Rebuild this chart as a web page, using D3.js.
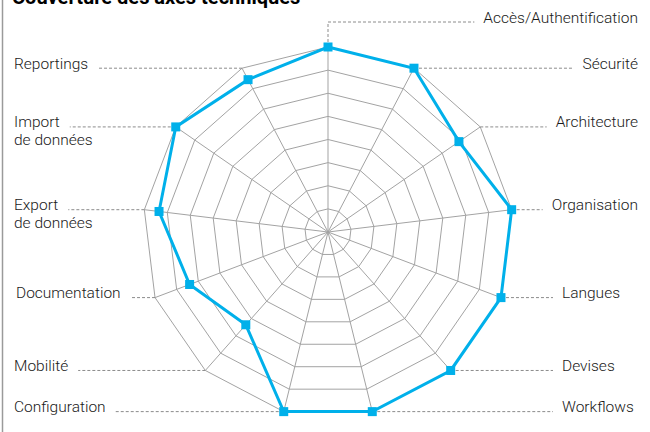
<!DOCTYPE html>
<html>
<head>
<meta charset="utf-8">
<script src="https://cdn.jsdelivr.net/npm/d3@7"></script>
<style>
  html, body { margin: 0; padding: 0; background: #fff; }
  svg { display: block; }
  text { font-family: Roboto, "Noto Sans", sans-serif; }
</style>
</head>
<body>
<svg id="chart" width="650" height="432"></svg>
<script>
// ---- data ----
const title = "Couverture des axes techniques";
const axes = [
  "Accès/Authentification", "Sécurité", "Architecture", "Organisation",
  "Langues", "Devises", "Workflows", "Configuration", "Mobilité",
  "Documentation", "Export\nde données", "Import\nde données", "Reportings"
];
const values = [100, 100, 86, 100, 100, 100, 100, 100, 67, 80, 92, 100, 93];
const maxValue = 100;
const levels = 8;

// ---- layout (not data) ----
const W = 650, H = 432;
const cx = 328, cy = 232, R = 185;
const labelLayout = [
  {side: "right", x: 638, lineY: 22},
  {side: "right", x: 638},
  {side: "right", x: 638},
  {side: "right", x: 638},
  {side: "rightStart", x: 562},
  {side: "rightStart", x: 562},
  {side: "rightStart", x: 562},
  {side: "left", x: 14},
  {side: "left", x: 14},
  {side: "left", x: 16},
  {side: "left", x: 14},
  {side: "left", x: 14},
  {side: "left", x: 14}
];
const blue = "#00b0ea";
const gridColor = "#a3a3a3";

const svg = d3.select("#chart");

// left border
svg.append("line").attr("x1", 2.5).attr("x2", 2.5).attr("y1", 0).attr("y2", H)
  .attr("stroke", "#9a9a9a").attr("stroke-width", 1.5);

// title (cut at the top in the original)
svg.append("text").attr("x", 12).attr("y", 4)
  .attr("font-size", 20).attr("font-weight", 700).attr("fill", "#000")
  .text(title);

const n = axes.length;
const angle = d3.scaleLinear().domain([0, n]).range([0, 2 * Math.PI]);
const r = d3.scaleLinear().domain([0, maxValue]).range([0, R]);
const pt = (i, v) => {
  const a = angle(i);
  return [cx + r(v) * Math.sin(a), cy - r(v) * Math.cos(a)];
};

const g = svg.append("g");

// grid rings
const levelVals = d3.range(1, levels + 1).map(k => maxValue * k / levels);
const ringLine = d3.line();
g.selectAll("path.ring").data(levelVals).join("path")
  .attr("class", "ring")
  .attr("d", lv => ringLine(d3.range(n).map(i => pt(i, lv))) + "Z")
  .attr("fill", "none").attr("stroke", gridColor).attr("stroke-width", 1);

// spokes
g.selectAll("line.spoke").data(d3.range(n)).join("line")
  .attr("class", "spoke")
  .attr("x1", cx).attr("y1", cy)
  .attr("x2", i => pt(i, maxValue)[0]).attr("y2", i => pt(i, maxValue)[1])
  .attr("stroke", gridColor).attr("stroke-width", 1);

// labels + leader lines
const lg = svg.append("g");
axes.forEach((name, i) => {
  const L = labelLayout[i];
  const [vx, vy] = pt(i, maxValue);
  const ly = L.lineY !== undefined ? L.lineY : vy;
  const lines = name.split("\n");
  const t = lg.append("text")
    .attr("font-size", 15.5).attr("font-weight", 300).attr("fill", "#1a1a1a")
    .attr("text-anchor", L.side === "right" ? "end" : "start");
  lines.forEach((s, k) => {
    t.append("tspan").attr("x", L.x).attr("y", ly + 0.5 + k * 18).text(s);
  });
  const firstW = t.select("tspan").node().getComputedTextLength();
  let lineEnd;
  if (L.side === "right") lineEnd = L.x - firstW - 9;
  else if (L.side === "rightStart") lineEnd = L.x - 9;
  else lineEnd = L.x + firstW + 10;
  let p = d3.path();
  p.moveTo(vx, vy);
  if (L.lineY !== undefined) p.lineTo(vx, ly);
  p.lineTo(lineEnd, ly);
  lg.append("path").attr("d", p.toString())
    .attr("stroke", "#8c8c8c").attr("stroke-width", 1)
    .attr("stroke-dasharray", "3,2").attr("fill", "none");
});

// data polygon
const dataPts = values.map((v, i) => pt(i, v));
svg.append("path")
  .attr("d", d3.line()(dataPts) + "Z")
  .attr("fill", "none").attr("stroke", blue).attr("stroke-width", 3)
  .attr("stroke-linejoin", "miter");

svg.selectAll("rect.marker").data(dataPts).join("rect")
  .attr("class", "marker")
  .attr("x", d => d[0] - 4.5).attr("y", d => d[1] - 4.5)
  .attr("width", 9).attr("height", 9).attr("fill", blue);
</script>
</body>
</html>
